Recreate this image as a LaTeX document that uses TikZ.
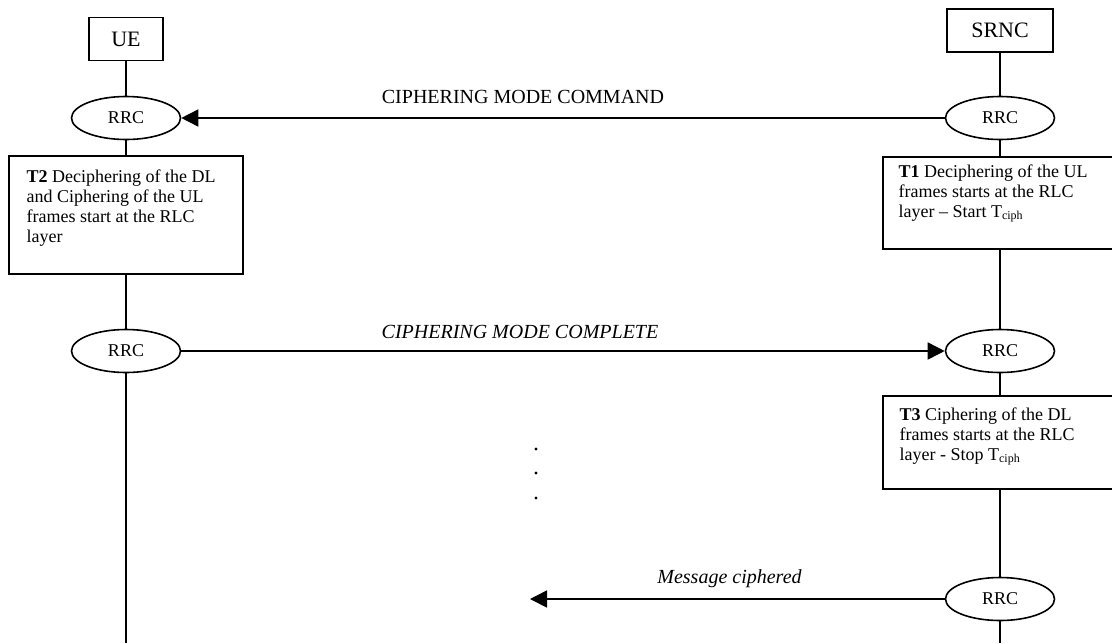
\documentclass[tikz,border=0pt]{standalone}
\usepackage{fontspec}
\setmainfont{Liberation Serif}
\usetikzlibrary{shapes.geometric,arrows.meta,positioning,calc}
\tikzstyle{entity} = [draw, shape=rectangle, thick, minimum height=21.5pt, font=\fontsize{11}{13}\selectfont]
\tikzstyle{rrc} = [draw, shape=ellipse, thick, minimum width=54.5pt, minimum height=21.5pt, inner sep=0pt, font=\fontsize{9}{10}\selectfont]
\tikzstyle{phase} = [draw, shape=rectangle, thick, minimum width=117pt]
\tikzstyle{note} = [anchor=north west, align=left, inner sep=0pt, font=\fontsize{9}{10}\selectfont]
\tikzstyle{msg} = [anchor=base, inner sep=0pt, font=\fontsize{10}{12}\selectfont]
\tikzstyle{Arrow} = [-{Triangle[length=8.5pt,width=8.5pt]}, thick]
\tikzstyle{life} = [thick]

\begin{document}
\begin{tikzpicture}[x=.5pt, y=-.5pt]
            \useasboundingbox (0,0) rectangle (1112,643);
            \clip (0,0) rectangle (1112,643);
            %%%%% UE side %%%%%
            \node (UE) [entity, minimum width=37pt] at (126,39) {UE};
            \node (U1) [rrc] at (126,118) {RRC};
            \node (T2) [phase, minimum height=59pt] at (126,215) {};
            \node (N2) [note] at ($(T2.north west) + (18,14)$) {\textbf{T2} Deciphering of the DL\\and Ciphering of the UL\\frames start at the RLC\\layer};
            \node (U2) [rrc] at (126,351) {RRC};
            \coordinate (UB) at (126,643);
            %%%%% SRNC side %%%%%
            \node (SRNC) [entity, minimum width=53pt] at (1000,30.5) {SRNC};
            \node (S1) [rrc] at (1000,118) {RRC};
            \node (T1) [phase, minimum height=46pt] at (1000,203) {};
            \node (N1) [note] at ($(T1.north west) + (16,8)$) {\textbf{T1} Deciphering of the UL\\frames starts at the RLC\\layer \textendash{} Start T\textsubscript{ciph}};
            \node (S2) [rrc] at (1000,351) {RRC};
            \node (T3) [phase, minimum height=46.5pt] at (1000,442.5) {};
            \node (N3) [note] at ($(T3.north west) + (17,12)$) {\textbf{T3} Ciphering of the DL\\frames starts at the RLC\\layer - Stop T\textsubscript{ciph}};
            \node (S3) [rrc] at (1000,599) {RRC};
            \coordinate (SB) at (1000,643);
            %%%%% Lifelines %%%%%
            \foreach \a/\b in {UE/U1, U1/T2, T2/U2, U2/UB, SRNC/S1, S1/T1, T1/S2, S2/T3, T3/S3, S3/SB}
                \draw [life] (\a) -- (\b);
            %%%%% Messages %%%%%
            \draw [Arrow] (S1) -- (U1);
            \node (L1) [msg] at (523,103) {CIPHERING MODE COMMAND};
            \draw [Arrow] (U2) -- (S2);
            \node (L2) [msg] at (520,338) {\textit{CIPHERING MODE COMPLETE}};
            \coordinate (M) at (530,599);
            \draw [Arrow] (S3) -- (M);
            \node (L3) [msg, anchor=base west] at (657,583) {\textit{Message ciphered}};
            %%%%% Dots %%%%%
            \foreach \y in {449,473,498}
                \fill (536,\y) circle (.8pt);
        \end{tikzpicture}
\end{document}
